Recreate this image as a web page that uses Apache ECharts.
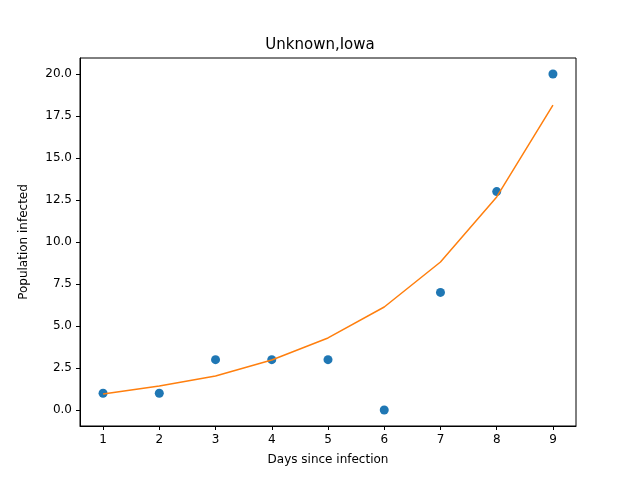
<!DOCTYPE html>
<html>
<head>
<meta charset="utf-8">
<script src="https://cdn.jsdelivr.net/npm/echarts@6/dist/echarts.min.js"></script>
<style>html,body{margin:0;padding:0;background:#fff}#main{width:640px;height:480px}</style>
</head>
<body>
<div id="main"></div>
<script>
// observed counts and fitted curve
var days = [1, 2, 3, 4, 5, 6, 7, 8, 9];
var infected = [1, 1, 3, 3, 3, 0, 7, 13, 20];
var fitted = [0.95, 1.43, 2.02, 2.98, 4.29, 6.13, 8.81, 12.68, 18.15];
var yTicks = [0, 2.5, 5, 7.5, 10, 12.5, 15, 17.5, 20];

var chart = echarts.init(document.getElementById('main'));
var font = 'DejaVu Sans';
chart.setOption({
    animation: false,
    title: {
        text: 'Unknown,Iowa',
        left: 'center',
        top: 33,
        textStyle: {fontFamily: font, fontSize: 15, fontWeight: 'normal', color: '#000'}
    },
    grid: {left: 80, right: 64, top: 58, bottom: 54, show: true, borderColor: '#000', borderWidth: 1},
    xAxis: {
        type: 'value', min: 0.59, max: 9.41,
        name: 'Days since infection', nameLocation: 'middle', nameGap: 28,
        nameTextStyle: {fontFamily: font, fontSize: 12, color: '#000'},
        splitLine: {show: false},
        axisLine: {onZero: false, lineStyle: {color: '#000'}},
        axisTick: {show: true, length: 4, inside: false, customValues: days, lineStyle: {color: '#000'}},
        axisLabel: {customValues: days, fontFamily: font, fontSize: 12, color: '#000'}
    },
    yAxis: {
        type: 'value', min: -0.95, max: 20.95,
        name: 'Population infected', nameLocation: 'middle', nameGap: 50,
        nameTextStyle: {fontFamily: font, fontSize: 12, color: '#000'},
        splitLine: {show: false},
        axisLine: {show: true, onZero: false, lineStyle: {color: '#000'}},
        axisTick: {show: true, length: 4, customValues: yTicks, lineStyle: {color: '#000'}},
        axisLabel: {customValues: yTicks, fontFamily: font, fontSize: 12, color: '#000',
            formatter: function (v) { return v.toFixed(1); }}
    },
    series: [{
        type: 'scatter',
        data: days.map(function (d, i) { return [d, infected[i]]; }),
        symbolSize: 9,
        itemStyle: {color: '#1f77b4', opacity: 1}
    }, {
        type: 'line',
        z: 3,
        data: days.map(function (d, i) { return [d, fitted[i]]; }),
        showSymbol: false,
        lineStyle: {color: '#ff7f0e', width: 1.5}
    }]
});
</script>
</body>
</html>
